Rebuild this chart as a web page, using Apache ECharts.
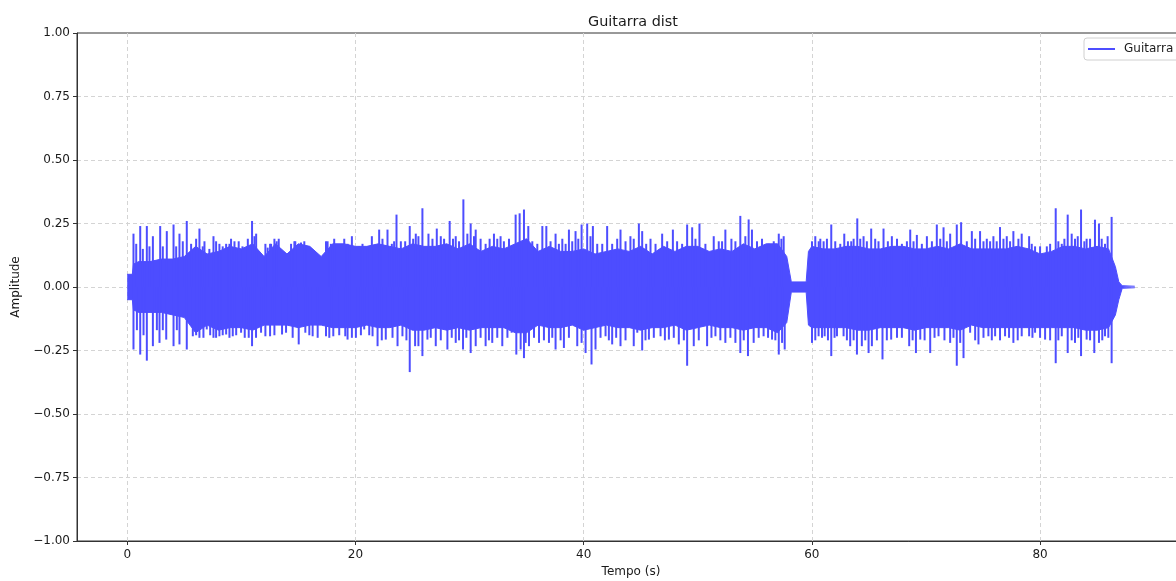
<!DOCTYPE html>
<html>
<head>
<meta charset="utf-8">
<script src="https://cdn.jsdelivr.net/npm/echarts@6/dist/echarts.min.js"></script>
<style>
  html, body { margin: 0; padding: 0; background: #fff; overflow: hidden; }
  #chart { width: 1200px; height: 581px; }
</style>
</head>
<body>
<div id="chart"></div>
<script>
// Waveform envelope of the distorted guitar track (seconds, amplitude)
const coreTime = [0, 0.45, 0.55, 1, 2, 3, 4, 5, 6, 7, 8, 9, 10, 11, 12, 13, 14, 15, 16, 17, 18, 19, 20, 21, 22, 23, 24, 25, 26, 27, 28, 29, 30, 31, 32, 33, 34, 35, 36, 37, 38, 39, 40, 41, 42, 43, 44, 45, 46, 47, 48, 49, 50, 51, 52, 53, 54, 55, 56, 57, 57.8, 58.2, 59.5, 59.7, 60, 61, 62, 63, 64, 65, 66, 67, 68, 69, 70, 71, 72, 73, 74, 75, 76, 77, 78, 79, 80, 81, 82, 83, 84, 85, 86, 86.6, 86.9, 87.2, 88.3];
const coreHigh = [0.05, 0.05, 0.09, 0.10, 0.10, 0.11, 0.11, 0.12, 0.16, 0.13, 0.14, 0.16, 0.15, 0.17, 0.12, 0.17, 0.13, 0.17, 0.16, 0.12, 0.17, 0.17, 0.16, 0.16, 0.17, 0.16, 0.15, 0.17, 0.16, 0.16, 0.17, 0.15, 0.17, 0.14, 0.16, 0.15, 0.17, 0.19, 0.14, 0.16, 0.14, 0.14, 0.15, 0.13, 0.14, 0.15, 0.14, 0.16, 0.13, 0.16, 0.14, 0.16, 0.16, 0.14, 0.15, 0.14, 0.17, 0.15, 0.17, 0.17, 0.12, 0.02, 0.02, 0.14, 0.16, 0.15, 0.15, 0.16, 0.16, 0.15, 0.15, 0.16, 0.16, 0.15, 0.15, 0.16, 0.15, 0.17, 0.15, 0.15, 0.15, 0.15, 0.16, 0.15, 0.13, 0.14, 0.16, 0.16, 0.15, 0.16, 0.15, 0.08, 0.02, 0.005, 0.003];
const coreLow = [-0.05, -0.05, -0.09, -0.10, -0.10, -0.10, -0.11, -0.12, -0.18, -0.15, -0.17, -0.16, -0.16, -0.17, -0.15, -0.15, -0.15, -0.16, -0.15, -0.15, -0.16, -0.16, -0.16, -0.15, -0.16, -0.16, -0.15, -0.17, -0.17, -0.16, -0.17, -0.16, -0.17, -0.16, -0.16, -0.16, -0.18, -0.18, -0.15, -0.16, -0.16, -0.15, -0.17, -0.16, -0.15, -0.16, -0.16, -0.17, -0.16, -0.16, -0.15, -0.17, -0.16, -0.15, -0.16, -0.16, -0.17, -0.16, -0.16, -0.18, -0.14, -0.02, -0.02, -0.15, -0.16, -0.16, -0.16, -0.16, -0.17, -0.17, -0.16, -0.16, -0.16, -0.17, -0.16, -0.16, -0.16, -0.17, -0.15, -0.16, -0.16, -0.16, -0.16, -0.16, -0.16, -0.16, -0.16, -0.16, -0.17, -0.17, -0.16, -0.11, -0.05, -0.005, -0.003];

// Strong transient peaks
const peakUpTime = [0.55, 1.14, 1.72, 2.25, 2.89, 3.47, 4.06, 4.58, 5.22, 6.04, 6.33, 6.77, 7.56, 8.08, 8.67, 9.10, 9.77,
  10.94, 11.30, 12.11, 12.52, 12.90, 13.28, 14.73, 15.52, 17.42, 18.14, 19.02, 19.69, 20.62, 21.44,
  22.08, 22.81, 23.19, 23.60, 23.98, 24.76, 25.29, 25.87, 26.40, 27.13, 27.77, 28.26, 28.79, 29.46, 30.10, 30.54, 31.41, 32.14, 32.72,
  34.04, 34.39, 34.77, 35.15, 36.38, 36.73, 37.54, 38.13, 38.71, 39.29, 39.82, 40.31, 40.81, 42.06, 43.23, 44.10,
  44.84, 45.13, 45.86, 46.88, 47.82, 49.07, 49.51, 50.15, 51.40, 52.42, 52.95, 53.73, 54.46, 54.75, 55.63,
  57.10, 57.53, 60.01, 60.30, 60.74, 61.32, 61.70, 62.05, 62.84, 63.45, 63.98, 64.53, 65.20, 65.55, 66.28, 67.01,
  67.46, 68.62, 69.20, 70.08, 70.95, 71.54, 72.12, 72.70, 73.08, 74.02, 74.74, 75.33, 75.91, 76.49, 77.08, 77.66, 78.39,
  79.04, 79.56, 80.59, 81.37, 81.90, 82.42, 82.77, 83.06, 83.59, 84.08, 84.81, 85.16, 85.69, 86.27];
const peakUpValue = [0.21, 0.24, 0.24, 0.20, 0.24, 0.22, 0.246, 0.21, 0.26, 0.19, 0.23, 0.18, 0.20, 0.17, 0.17, 0.19, 0.18,
  0.26, 0.21, 0.17, 0.17, 0.19, 0.19, 0.18, 0.18, 0.18, 0.19, 0.19, 0.20, 0.17, 0.20,
  0.226, 0.226, 0.17, 0.285, 0.18, 0.24, 0.21, 0.31, 0.21, 0.23, 0.19, 0.26, 0.20, 0.345, 0.25, 0.226, 0.17, 0.21, 0.20,
  0.285, 0.29, 0.305, 0.24, 0.24, 0.24, 0.21, 0.19, 0.226, 0.22, 0.246, 0.25, 0.24, 0.24, 0.226, 0.20,
  0.25, 0.22, 0.19, 0.21, 0.226, 0.246, 0.235, 0.25, 0.20, 0.226, 0.19, 0.28, 0.266, 0.226, 0.19,
  0.21, 0.20, 0.18, 0.20, 0.19, 0.19, 0.246, 0.18, 0.21, 0.18, 0.27, 0.20, 0.23, 0.19, 0.23, 0.20,
  0.19, 0.226, 0.205, 0.20, 0.246, 0.235, 0.21, 0.246, 0.255, 0.22, 0.22, 0.19, 0.20, 0.236, 0.20, 0.22, 0.21,
  0.20, 0.16, 0.16, 0.31, 0.17, 0.285, 0.21, 0.19, 0.305, 0.19, 0.265, 0.25, 0.17, 0.276];
const peakDownTime = [0.55, 1.14, 1.72, 2.25, 2.83, 3.42, 4.06, 4.58, 5.22, 5.75, 6.33, 6.97, 7.56, 8.08, 8.67, 9.25, 9.98,
  10.65, 10.94, 12.11, 12.52, 13.57, 15.03, 15.61, 16.25, 17.42, 18.06, 19.11, 19.31, 20.04, 20.77, 21.50,
  21.94, 22.66, 23.69, 24.12, 24.76, 25.23, 25.52, 25.87, 26.31, 27.04, 28.06, 28.79, 29.43, 30.10, 30.54, 31.41, 31.99, 32.87,
  33.69, 34.10, 34.48, 34.77, 35.21, 36.09, 36.96, 37.54, 38.27, 39.44, 40.17, 40.69, 41.04, 41.92, 42.50, 43.23, 44.39,
  44.70, 45.13, 45.72, 46.74, 47.47, 48.34, 49.07, 49.65, 50.82, 51.55, 52.42, 53.30, 53.73, 54.40, 54.90, 55.77,
  56.51, 57.10, 57.62, 60.01, 60.59, 61.12, 61.70, 62.20, 62.78, 63.36, 63.95, 64.38, 64.97, 65.26, 66.19, 66.95,
  67.46, 68.53, 69.12, 69.50, 70.37, 71.10, 72.12, 72.70, 73.29, 73.87, 74.60, 75.47, 76.06, 76.93, 77.66, 78.39,
  79.04, 79.56, 80.44, 81.37, 81.90, 82.42, 83.06, 83.59, 84.08, 84.75, 85.16, 85.69, 86.27];
const peakDownValue = [-0.246, -0.266, -0.29, -0.233, -0.22, -0.207, -0.233, -0.226, -0.246, -0.194, -0.20, -0.167, -0.20, -0.194, -0.187, -0.194, -0.18,
  -0.20, -0.233, -0.194, -0.194, -0.187, -0.226, -0.18, -0.194, -0.194, -0.194, -0.194, -0.207, -0.20, -0.167, -0.194,
  -0.233, -0.207, -0.233, -0.194, -0.335, -0.233, -0.233, -0.272, -0.207, -0.233, -0.246, -0.22, -0.246, -0.26, -0.233, -0.233, -0.22, -0.233,
  -0.18, -0.266, -0.246, -0.28, -0.233, -0.22, -0.22, -0.246, -0.24, -0.233, -0.26, -0.305, -0.246, -0.194, -0.226, -0.233, -0.233,
  -0.18, -0.25, -0.207, -0.194, -0.207, -0.226, -0.31, -0.233, -0.233, -0.194, -0.22, -0.22, -0.26, -0.272, -0.22, -0.194,
  -0.207, -0.266, -0.246, -0.22, -0.194, -0.194, -0.272, -0.194, -0.194, -0.233, -0.266, -0.233, -0.26, -0.233, -0.285, -0.207,
  -0.20, -0.233, -0.26, -0.207, -0.26, -0.194, -0.22, -0.31, -0.28, -0.18, -0.226, -0.194, -0.194, -0.194, -0.22, -0.194,
  -0.194, -0.18, -0.207, -0.30, -0.194, -0.26, -0.22, -0.272, -0.207, -0.26, -0.22, -0.194, -0.30];

// Smaller peaks that roughen the envelope edge
const minorUpTime = [0.79, 1.37, 1.95, 3.12, 4.29, 4.87, 5.6, 6.62, 7.2, 7.79, 8.37, 8.96, 9.4, 10.1,
  10.57, 11.15, 12.31, 12.61, 13.10, 14.36, 14.65, 15.23, 15.81, 17.56, 17.85, 19.31, 20.33, 21.06,
  22.37, 23.39, 24.36, 25.06, 25.52, 26.75, 27.48, 28.55, 29.08, 29.81, 30.39, 30.97, 31.76, 32.43, 33.01,
  33.46, 33.75, 35.5, 35.94, 37.1, 37.83, 38.42, 39.0, 39.53, 40.6, 41.19, 41.63, 42.5, 42.94, 43.67, 44.39,
  45.48, 46.3, 47.32, 48.19, 48.63, 49.8, 50.67, 51.84, 52.13, 53.3, 54.17, 55.19,
  56.22, 56.66, 57.33, 60.6, 61.03, 62.49, 63.16, 63.66, 64.24, 64.82, 65.84, 66.66,
  67.89, 68.33, 68.91, 69.64, 70.52, 71.25, 71.83, 73.58, 74.31, 75.04, 75.62, 76.2, 76.79, 77.37, 78.1,
  79.27, 80.0, 80.88, 81.6, 82.13, 83.3, 83.88, 84.38, 85.4, 85.92];
const minorUpValue = [0.17, 0.15, 0.16, 0.16, 0.16, 0.18, 0.17, 0.16, 0.15, 0.18, 0.16, 0.17, 0.18, 0.16,
  0.19, 0.20, 0.155, 0.17, 0.18, 0.17, 0.18, 0.175, 0.16, 0.18, 0.17, 0.17, 0.16, 0.16,
  0.19, 0.18, 0.18, 0.19, 0.20, 0.19, 0.20, 0.19, 0.18, 0.21, 0.20, 0.19, 0.19, 0.19, 0.18,
  0.19, 0.16, 0.18, 0.17, 0.18, 0.17, 0.17, 0.18, 0.19, 0.20, 0.17, 0.17, 0.17, 0.19, 0.18, 0.19,
  0.17, 0.17, 0.18, 0.18, 0.17, 0.19, 0.17, 0.18, 0.18, 0.18, 0.20, 0.18,
  0.17, 0.18, 0.19, 0.18, 0.18, 0.17, 0.18, 0.19, 0.19, 0.18, 0.18, 0.18,
  0.17, 0.18, 0.18, 0.17, 0.18, 0.19, 0.18, 0.18, 0.19, 0.18, 0.18, 0.18, 0.19, 0.18, 0.19,
  0.17, 0.16, 0.17, 0.18, 0.19, 0.20, 0.18, 0.19, 0.19, 0.20];
const minorDownTime = [0.85, 1.43, 2.6, 3.12, 4.35, 6.04, 6.68, 7.27, 7.79, 8.37, 8.96, 9.55, 10.3,
  11.29, 11.73, 12.9, 13.92, 14.5, 15.96, 16.69, 17.71, 18.58, 19.69, 20.48, 21.21,
  22.31, 23.25, 24.47, 26.6, 27.48, 28.44, 29.08, 29.72, 30.97, 31.7, 32.43,
  33.32, 34.92, 35.65, 36.52, 37.25, 37.98, 38.71, 39.82, 41.48, 42.21, 42.85, 43.67,
  45.42, 46.15, 47.12, 47.9, 48.78, 50.09, 51.2, 51.98, 52.86, 54.03, 55.34,
  56.16, 56.8, 57.39, 60.3, 60.89, 61.41, 61.99, 63.07, 63.66, 64.68, 65.7, 66.57,
  67.89, 68.83, 69.88, 70.75, 71.62, 72.41, 73.0, 74.31, 75.04, 75.77, 76.49, 77.28, 78.04,
  79.33, 80.0, 80.88, 81.6, 82.77, 83.35, 84.38, 85.45, 85.98];
const minorDownValue = [-0.17, -0.19, -0.17, -0.17, -0.17, -0.19, -0.20, -0.19, -0.20, -0.19, -0.20, -0.19, -0.20,
  -0.20, -0.18, -0.19, -0.18, -0.20, -0.19, -0.20, -0.20, -0.19, -0.20, -0.19, -0.19,
  -0.21, -0.20, -0.21, -0.20, -0.21, -0.20, -0.21, -0.20, -0.20, -0.21, -0.20,
  -0.20, -0.22, -0.20, -0.21, -0.20, -0.21, -0.20, -0.22, -0.20, -0.21, -0.20, -0.21,
  -0.21, -0.20, -0.21, -0.20, -0.21, -0.21, -0.20, -0.21, -0.20, -0.21, -0.20,
  -0.20, -0.21, -0.22, -0.21, -0.20, -0.21, -0.20, -0.21, -0.21, -0.21, -0.21, -0.21,
  -0.20, -0.21, -0.21, -0.20, -0.21, -0.20, -0.22, -0.21, -0.20, -0.21, -0.21, -0.20, -0.21,
  -0.20, -0.20, -0.21, -0.21, -0.21, -0.20, -0.21, -0.21, -0.20];

const yTicks = [-1, -0.75, -0.5, -0.25, 0, 0.25, 0.5, 0.75, 1];
const seriesName = 'Guitarra dist';
const waveColor = '#4d4dff';

const zip = (a, b) => a.map((v, i) => [v, b[i]]);
const font = 'DejaVu Sans';
const axisColor = '#333333';
const gridLine = {
  show: true,
  showMinLine: false,
  showMaxLine: false,
  lineStyle: { color: '#d4d4d4', type: [4, 3], width: 1 }
};

const chart = echarts.init(document.getElementById('chart'), null, { renderer: 'canvas' });
chart.setOption({
  animation: false,
  backgroundColor: '#ffffff',
  title: {
    text: 'Guitarra dist',
    left: 583,
    top: 10,
    textStyle: { fontFamily: font, fontSize: 14.4, fontWeight: 'normal', color: '#1a1a1a' }
  },
  legend: {
    data: [{ name: seriesName, icon: 'rect' }],
    left: 1084,
    top: 38,
    itemWidth: 27,
    itemHeight: 2,
    padding: [5, 6, 5, 4],
    backgroundColor: '#ffffff',
    borderColor: '#d0d0d0',
    borderWidth: 1,
    borderRadius: 3,
    textStyle: { fontFamily: font, fontSize: 12, color: '#1a1a1a', padding: [0, 0, 0, 4] }
  },
  grid: {
    left: 77, right: 15, top: 33, bottom: 40,
    show: true,
    borderColor: axisColor,
    borderWidth: 1,
    backgroundColor: 'transparent',
    containLabel: false,
    outerBoundsMode: 'none'
  },
  xAxis: {
    type: 'value',
    min: -4.4,
    max: 92.7,
    splitNumber: 5,
    name: 'Tempo (s)',
    nameLocation: 'middle',
    nameGap: 24,
    nameTextStyle: { fontFamily: font, fontSize: 12, color: '#1a1a1a' },
    axisLine: { show: true, onZero: false, lineStyle: { color: axisColor, width: 1 } },
    axisTick: { show: true, length: 4, lineStyle: { color: axisColor } },
    axisLabel: {
      showMinLabel: false, showMaxLabel: false,
      margin: 8,
      fontFamily: font, fontSize: 12, color: '#1a1a1a'
    },
    splitLine: gridLine
  },
  yAxis: {
    type: 'value',
    min: yTicks[0],
    max: yTicks[yTicks.length - 1],
    interval: 0.25,
    name: 'Amplitude',
    nameLocation: 'middle',
    nameRotate: 90,
    nameGap: 54,
    nameTextStyle: { fontFamily: font, fontSize: 12, color: '#1a1a1a' },
    axisLine: { show: true, onZero: false, lineStyle: { color: axisColor, width: 1 } },
    axisTick: { show: true, length: 4, lineStyle: { color: axisColor } },
    axisLabel: {
      margin: 7,
      fontFamily: font, fontSize: 12, color: '#1a1a1a',
      formatter: v => (v < 0 ? '\u2212' : '') + Math.abs(v).toFixed(2)
    },
    splitLine: gridLine
  },
  series: [
    {
      name: seriesName,
      type: 'line',
      data: zip(coreTime, coreHigh),
      symbol: 'none',
      color: waveColor,
      lineStyle: { color: waveColor, width: 1 },
      areaStyle: { color: waveColor, opacity: 1 },
      z: 3
    },
    {
      name: seriesName,
      type: 'line',
      data: zip(coreTime, coreLow),
      symbol: 'none',
      color: waveColor,
      lineStyle: { color: waveColor, width: 1 },
      areaStyle: { color: waveColor, opacity: 1 },
      z: 3
    },
    {
      name: seriesName,
      type: 'bar',
      data: zip(peakUpTime, peakUpValue)
        .concat(zip(peakDownTime, peakDownValue))
        .concat(zip(minorUpTime, minorUpValue))
        .concat(zip(minorDownTime, minorDownValue)),
      barWidth: 2,
      color: waveColor,
      itemStyle: { color: waveColor },
      z: 3
    }
  ]
});
</script>
</body>
</html>
